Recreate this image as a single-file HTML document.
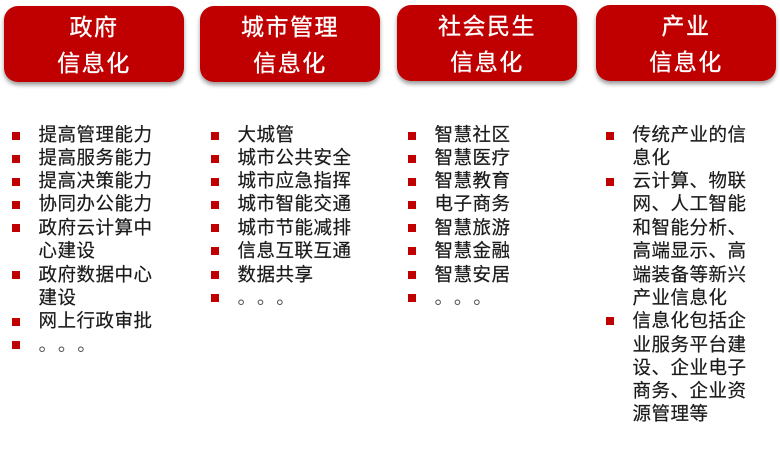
<!DOCTYPE html>
<html><head><meta charset="utf-8"><style>
html,body{margin:0;padding:0;background:#fff}
#p{position:relative;width:780px;height:454px;overflow:hidden;background:#fff;font-family:"Liberation Sans","Noto Sans CJK SC",sans-serif}
.h{position:absolute;width:180px;height:76px;background:#c00000;border-radius:14px;box-shadow:0 3px 4px rgba(0,0,0,.4);color:#fff;font-size:23px;letter-spacing:1.5px;text-align:center;-webkit-text-stroke:.35px #fff}
.h div{position:absolute;left:0;width:180px;height:34px;line-height:34px}
.l{position:absolute;top:0;white-space:nowrap;font-size:18.5px;letter-spacing:.5px;color:#1a1a1a;height:24px;line-height:24px;-webkit-text-stroke:.2px #1a1a1a}
.l i{display:inline-block;width:19.4px;font-style:normal;letter-spacing:0;color:#555;-webkit-text-stroke:0}
.b{position:absolute;width:8px;height:8px;background:#c00000}
</style></head><body><div id="p">
<div class="h" style="left:4px;top:6px"><div style="top:4px">政府</div><div style="top:40px">信息化</div></div>
<div class="h" style="left:200px;top:6px"><div style="top:4px">城市管理</div><div style="top:40px">信息化</div></div>
<div class="h" style="left:397px;top:5px"><div style="top:4px">社会民生</div><div style="top:40px">信息化</div></div>
<div class="h" style="left:596px;top:5px"><div style="top:4px">产业</div><div style="top:40px">信息化</div></div>

<div class="b" style="left:12px;top:132px"></div><div class="l" style="left:38.5px;top:123px">提高管理能力</div>
<div class="b" style="left:12px;top:155px"></div><div class="l" style="left:38.5px;top:146px">提高服务能力</div>
<div class="b" style="left:12px;top:178px"></div><div class="l" style="left:38.5px;top:169px">提高决策能力</div>
<div class="b" style="left:12px;top:201px"></div><div class="l" style="left:38.5px;top:192px">协同办公能力</div>
<div class="b" style="left:12px;top:224px"></div><div class="l" style="left:38.5px;top:216px">政府云计算中</div>
<div class="l" style="left:38.5px;top:239px">心建设</div>
<div class="b" style="left:12px;top:271px"></div><div class="l" style="left:38.5px;top:263px">政府数据中心</div>
<div class="l" style="left:38.5px;top:286px">建设</div>
<div class="b" style="left:12px;top:318px"></div><div class="l" style="left:38.5px;top:309px">网上行政审批</div>
<div class="b" style="left:12px;top:341px"></div><div class="l" style="left:38.5px;top:333px"><i>。</i><i>。</i><i>。</i></div>

<div class="b" style="left:211px;top:132px"></div><div class="l" style="left:237.5px;top:123px">大城管</div>
<div class="b" style="left:211px;top:155px"></div><div class="l" style="left:237.5px;top:146px">城市公共安全</div>
<div class="b" style="left:211px;top:178px"></div><div class="l" style="left:237.5px;top:169px">城市应急指挥</div>
<div class="b" style="left:211px;top:201px"></div><div class="l" style="left:237.5px;top:192px">城市智能交通</div>
<div class="b" style="left:211px;top:224px"></div><div class="l" style="left:237.5px;top:216px">城市节能减排</div>
<div class="b" style="left:211px;top:247px"></div><div class="l" style="left:237.5px;top:239px">信息互联互通</div>
<div class="b" style="left:211px;top:271px"></div><div class="l" style="left:237.5px;top:263px">数据共享</div>
<div class="b" style="left:211px;top:294px"></div><div class="l" style="left:237.5px;top:286px"><i>。</i><i>。</i><i>。</i></div>

<div class="b" style="left:408px;top:132px"></div><div class="l" style="left:434.5px;top:123px">智慧社区</div>
<div class="b" style="left:408px;top:155px"></div><div class="l" style="left:434.5px;top:146px">智慧医疗</div>
<div class="b" style="left:408px;top:178px"></div><div class="l" style="left:434.5px;top:169px">智慧教育</div>
<div class="b" style="left:408px;top:201px"></div><div class="l" style="left:434.5px;top:192px">电子商务</div>
<div class="b" style="left:408px;top:224px"></div><div class="l" style="left:434.5px;top:216px">智慧旅游</div>
<div class="b" style="left:408px;top:247px"></div><div class="l" style="left:434.5px;top:239px">智慧金融</div>
<div class="b" style="left:408px;top:271px"></div><div class="l" style="left:434.5px;top:263px">智慧安居</div>
<div class="b" style="left:408px;top:294px"></div><div class="l" style="left:434.5px;top:286px"><i>。</i><i>。</i><i>。</i></div>

<div class="b" style="left:606px;top:132px"></div><div class="l" style="left:632.5px;top:123px">传统产业的信</div>
<div class="l" style="left:632.5px;top:146px">息化</div>
<div class="b" style="left:606px;top:178px"></div><div class="l" style="left:632.5px;top:169px">云计算、物联</div>
<div class="l" style="left:632.5px;top:192px">网、人工智能</div>
<div class="l" style="left:632.5px;top:216px">和智能分析、</div>
<div class="l" style="left:632.5px;top:239px">高端显示、高</div>
<div class="l" style="left:632.5px;top:263px">端装备等新兴</div>
<div class="l" style="left:632.5px;top:286px">产业信息化</div>
<div class="b" style="left:606px;top:317px"></div><div class="l" style="left:632.5px;top:309px">信息化包括企</div>
<div class="l" style="left:632.5px;top:333px">业服务平台建</div>
<div class="l" style="left:632.5px;top:356px">设、企业电子</div>
<div class="l" style="left:632.5px;top:379px">商务、企业资</div>
<div class="l" style="left:632.5px;top:402px">源管理等</div>
</div></body></html>
